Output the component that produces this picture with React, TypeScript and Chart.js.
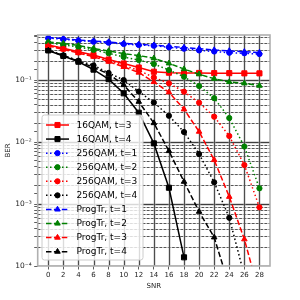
import React, { useEffect, useRef } from "react";
import { Chart, registerables } from "chart.js";

Chart.register(...registerables);

// ---------- data ----------
const SNR = [0, 2, 4, 6, 8, 10, 12, 14, 16, 18, 20, 22, 24, 26, 28];

const QAM16_T3 = [0.367, 0.324, 0.286, 0.253, 0.214, 0.185, 0.159, 0.136, 0.131, 0.13, 0.13, 0.129, 0.129, 0.128, 0.128];
const QAM16_T4 = [0.3, 0.244, 0.197, 0.147, 0.103, 0.061, 0.0297, 0.0095, 0.00183, 0.000138, null, null, null, null, null];

const QAM256_T1 = [0.475, 0.455, 0.432, 0.415, 0.4, 0.381, 0.367, 0.357, 0.337, 0.32, 0.3, 0.288, 0.275, 0.27, 0.262];
const QAM256_T2 = [0.4, 0.367, 0.342, 0.305, 0.27, 0.235, 0.21, 0.181, 0.145, 0.113, 0.08, 0.051, 0.0244, 0.00845, 0.00179];
const QAM256_T3 = [0.36, 0.318, 0.278, 0.245, 0.205, 0.172, 0.143, 0.11, 0.0885, 0.0648, 0.043, 0.0256, 0.0125, 0.00425, 0.000885];
const QAM256_T4 = [0.305, 0.25, 0.205, 0.172, 0.13, 0.1, 0.065, 0.0434, 0.0265, 0.0145, 0.0064, 0.00224, 0.0006, 0.00007, null];

const PROG_T1 = [0.485, 0.465, 0.44, 0.425, 0.41, 0.39, 0.375, 0.365, 0.35, 0.335, 0.32, 0.305, 0.295, 0.285, 0.278];
const PROG_T2 = [0.41, 0.39, 0.36, 0.322, 0.294, 0.267, 0.248, 0.224, 0.186, 0.15, 0.124, 0.105, 0.093, 0.0885, 0.081];
const PROG_T3 = [0.355, 0.312, 0.272, 0.238, 0.198, 0.163, 0.132, 0.093, 0.0634, 0.0337, 0.0147, 0.00513, 0.00131, 0.00027, 0.000035];
const PROG_T4 = [0.3, 0.248, 0.2, 0.16, 0.125, 0.083, 0.0447, 0.0202, 0.00716, 0.00229, 0.000752, 0.00029, 0.000047, null, null];

const LABELS = [
  "16QAM, t=3",
  "16QAM, t=4",
  "256QAM, t=1",
  "256QAM, t=2",
  "256QAM, t=3",
  "256QAM, t=4",
  "ProgTr, t=1",
  "ProgTr, t=2",
  "ProgTr, t=3",
  "ProgTr, t=4",
];
const VALUES = [QAM16_T3, QAM16_T4, QAM256_T1, QAM256_T2, QAM256_T3, QAM256_T4, PROG_T1, PROG_T2, PROG_T3, PROG_T4];

const X_TICKS = [0, 2, 4, 6, 8, 10, 12, 14, 16, 18, 20, 22, 24, 26, 28];
const Y_DECADES = [-4, -3, -2, -1];

// ---------- styles ----------
const SOLID: number[] = [];
const DOTTED = [1.5, 2.5];
const DASHED = [5.5, 2.4];
type Marker = "rect" | "circle" | "triangle";
const STYLES: { color: string; dash: number[]; marker: Marker }[] = [
  { color: "#ff0000", dash: SOLID, marker: "rect" },
  { color: "#000000", dash: SOLID, marker: "rect" },
  { color: "#0000ff", dash: DOTTED, marker: "circle" },
  { color: "#008000", dash: DOTTED, marker: "circle" },
  { color: "#ff0000", dash: DOTTED, marker: "circle" },
  { color: "#000000", dash: DOTTED, marker: "circle" },
  { color: "#0000ff", dash: DASHED, marker: "triangle" },
  { color: "#008000", dash: DASHED, marker: "triangle" },
  { color: "#ff0000", dash: DASHED, marker: "triangle" },
  { color: "#000000", dash: DASHED, marker: "triangle" },
];
const RADIUS: Record<Marker, number> = { rect: 3.6, circle: 2.6, triangle: 3.2 };
const FONT = "DejaVu Sans";

const SUP: Record<string, string> = { "-": "\u207b", "0": "\u2070", "1": "\u00b9", "2": "\u00b2", "3": "\u00b3", "4": "\u2074", "5": "\u2075", "6": "\u2076", "7": "\u2077", "8": "\u2078", "9": "\u2079" };
const sup = (n: number) => String(n).split("").map((c) => SUP[c] || c).join("");

function drawMarker(ctx: CanvasRenderingContext2D, m: Marker, x: number, y: number, color: string) {
  ctx.save();
  ctx.setLineDash([]);
  ctx.fillStyle = color;
  ctx.strokeStyle = color;
  ctx.lineWidth = 1;
  ctx.beginPath();
  const r = RADIUS[m];
  if (m === "rect") {
    const h = r * Math.SQRT1_2;
    ctx.rect(x - h, y - h, 2 * h, 2 * h);
  } else if (m === "circle") {
    ctx.arc(x, y, r, 0, Math.PI * 2);
  } else {
    ctx.moveTo(x, y - r);
    ctx.lineTo(x + r * 0.866, y + r * 0.5);
    ctx.lineTo(x - r * 0.866, y + r * 0.5);
    ctx.closePath();
  }
  ctx.fill();
  ctx.stroke();
  ctx.restore();
}

const gridPlugin = {
  id: "mplGrid",
  beforeDatasetsDraw(chart: any) {
    const { ctx, chartArea: a, scales } = chart;
    const x = scales.x;
    const y = scales.y;
    ctx.save();
    ctx.beginPath();
    ctx.rect(a.left, a.top, a.right - a.left, a.bottom - a.top);
    ctx.clip();
    const hline = (py: number, color: string, w: number, dash: number[]) => {
      ctx.beginPath();
      ctx.setLineDash(dash);
      ctx.strokeStyle = color;
      ctx.lineWidth = w;
      ctx.moveTo(a.left, py);
      ctx.lineTo(a.right, py);
      ctx.stroke();
    };
    const vline = (px: number, color: string, w: number, dash: number[]) => {
      ctx.beginPath();
      ctx.setLineDash(dash);
      ctx.strokeStyle = color;
      ctx.lineWidth = w;
      ctx.moveTo(px, a.top);
      ctx.lineTo(px, a.bottom);
      ctx.stroke();
    };
    // minor y lines
    for (let e = -4; e <= 0; e++) {
      for (let m = 2; m <= 9; m++) {
        const v = m * Math.pow(10, e);
        if (v > y.max) continue;
        const py = Math.round(y.getPixelForValue(v)) + 0.5;
        hline(py, "rgba(176,176,176,0.6)", 1.2, []);
        hline(py, "#222", 0.7, [2.6, 1.6]);
      }
    }
    // major y lines
    for (const e of Y_DECADES) {
      const py = Math.round(y.getPixelForValue(Math.pow(10, e))) + 0.5;
      hline(py, "#b0b0b0", 1.8, []);
      hline(py, "#222", 0.8, []);
    }
    // x lines
    for (const v of X_TICKS) {
      const px = Math.round(x.getPixelForValue(v)) + 0.5;
      vline(px, "#b0b0b0", 1.8, []);
      vline(px, "#333", 0.8, []);
    }
    ctx.restore();
  },
  afterDatasetsDraw(chart: any) {
    const { ctx, chartArea: a } = chart;
    ctx.save();
    // frame
    ctx.setLineDash([]);
    ctx.strokeStyle = "#b0b0b0";
    ctx.lineWidth = 1.6;
    ctx.strokeRect(a.left, a.top, a.right - a.left, a.bottom - a.top);

    // legend
    const bx = 42, by = 115, bw = 101, bh = 145, r = 2.5;
    ctx.beginPath();
    ctx.moveTo(bx + r, by);
    ctx.lineTo(bx + bw - r, by);
    ctx.quadraticCurveTo(bx + bw, by, bx + bw, by + r);
    ctx.lineTo(bx + bw, by + bh - r);
    ctx.quadraticCurveTo(bx + bw, by + bh, bx + bw - r, by + bh);
    ctx.lineTo(bx + r, by + bh);
    ctx.quadraticCurveTo(bx, by + bh, bx, by + bh - r);
    ctx.lineTo(bx, by + r);
    ctx.quadraticCurveTo(bx, by, bx + r, by);
    ctx.closePath();
    ctx.fillStyle = "rgba(255,255,255,0.8)";
    ctx.fill();
    ctx.strokeStyle = "#cccccc";
    ctx.lineWidth = 1;
    ctx.stroke();

    ctx.font = `9px "${FONT}"`;
    ctx.textBaseline = "middle";
    ctx.textAlign = "left";
    LABELS.forEach((lab, i) => {
      const st = STYLES[i];
      const yy = 125 + i * 14.07;
      ctx.beginPath();
      ctx.setLineDash(st.dash);
      ctx.strokeStyle = st.color;
      ctx.lineWidth = 1.5;
      ctx.moveTo(46, yy);
      ctx.lineTo(69, yy);
      ctx.stroke();
      drawMarker(ctx, st.marker, 57.5, yy, st.color);
      ctx.fillStyle = "#000";
      ctx.fillText(lab, 76.5, yy + 0.5);
    });
    ctx.restore();
  },
};

export default function App() {
  const ref = useRef<HTMLCanvasElement | null>(null);

  useEffect(() => {
    if (!ref.current) return;
    const n = LABELS.length;
    const datasets = LABELS.map((label, i) => {
      const st = STYLES[i];
      const data = SNR.map((x, j) => ({ x, y: VALUES[i][j] })).filter((p) => p.y !== null && p.y !== undefined);
      return {
        label,
        data,
        borderColor: st.color,
        backgroundColor: st.color,
        borderWidth: 1.5,
        borderDash: st.dash,
        pointStyle: st.marker,
        pointRadius: RADIUS[st.marker],
        pointBorderWidth: 1,
        pointBorderColor: st.color,
        pointBackgroundColor: st.color,
        tension: 0,
        fill: false,
        order: n - i,
      };
    });

    const chart = new Chart(ref.current, {
      type: "line",
      data: { datasets },
      plugins: [gridPlugin],
      options: {
        animation: false,
        responsive: false,
        maintainAspectRatio: false,
        layout: { padding: { left: 0, right: 30, top: 35, bottom: 0 } },
        plugins: { legend: { display: false }, tooltip: { enabled: false } },
        scales: {
          x: {
            type: "linear",
            min: -1.4,
            max: 29.4,
            border: { display: false },
            grid: { drawOnChartArea: false, drawTicks: true, tickLength: 3.5, color: "#333", lineWidth: 0.8 },
            ticks: {
              stepSize: 2,
              includeBounds: false,
              autoSkip: false,
              maxRotation: 0,
              padding: 1.5,
              color: "#222",
              font: { family: FONT, size: 7 },
            },
            title: { display: true, text: "SNR", color: "#222", font: { family: FONT, size: 7 }, padding: { top: 0, bottom: 10 } },
            afterFit: (s: any) => {
              s.height = 34;
            },
          },
          y: {
            type: "logarithmic",
            min: 1e-4,
            max: 0.532,
            border: { display: false },
            grid: { drawOnChartArea: false, drawTicks: true, tickLength: 3.5, color: "#333", lineWidth: 0.8 },
            ticks: {
              autoSkip: false,
              padding: 2.5,
              color: "#222",
              font: { family: FONT, size: 7.5 },
              callback: (v: any) => {
                const e = Math.log10(Number(v));
                if (Math.abs(e - Math.round(e)) < 1e-6) return "10" + sup(Math.round(e));
                return "";
              },
            },
            title: { display: true, text: "BER", color: "#222", font: { family: FONT, size: 7 }, padding: { top: 4, bottom: 0 } },
            afterFit: (s: any) => {
              s.width = 37.7;
            },
          },
        },
      },
    } as any);
    return () => chart.destroy();
  }, []);

  return (
    <div style={{ position: "fixed", left: 0, top: 0, width: 300, height: 300, background: "#fff" }}>
      <canvas ref={ref} width={300} height={300} style={{ width: 300, height: 300, display: "block" }} />
    </div>
  );
}
